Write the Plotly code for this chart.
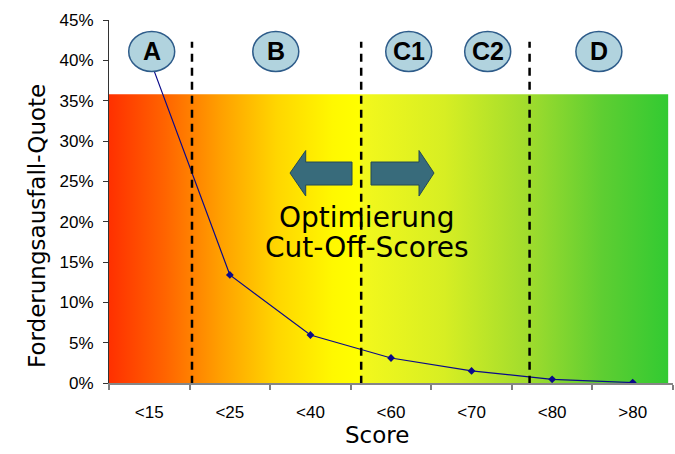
import plotly.graph_objects as go

# ---- data ----
categories = ["<15", "<25", "<40", "<60", "<70", "<80", ">80"]
quote = [0.403, 0.134, 0.0595, 0.031, 0.015, 0.0046, 0.0005]
y_ticks = [0, 0.05, 0.10, 0.15, 0.20, 0.25, 0.30, 0.35, 0.40, 0.45]
segment_labels = ["A", "B", "C1", "C2", "D"]
segment_x = [0.03, 1.57, 3.22, 4.20, 5.58]     # label centres (category units)
cutoff_x = [0.53, 2.63, 4.72]                  # dashed cut-off lines (category units)

# ---- styling constants ----
BAND_TOP = 0.358
BAND_RIGHT = 6.44
LABEL_Y = 0.411
CUTOFF_TOP = 0.423
TICK_FONT = dict(family="Liberation Sans, Arial", size=17, color="black")
TITLE_FONT = dict(family="DejaVu Sans", size=23, color="black")

grad = [
    [0.0, "rgb(255,48,0)"],
    [0.10, "rgb(255,100,0)"],
    [0.20, "rgb(255,160,0)"],
    [0.30, "rgb(255,214,0)"],
    [0.40, "rgb(255,248,0)"],
    [0.448, "rgb(255,255,0)"],
    [0.452, "rgb(243,248,28)"],
    [0.60, "rgb(215,238,35)"],
    [0.75, "rgb(160,220,45)"],
    [0.88, "rgb(95,206,50)"],
    [1.0, "rgb(50,202,50)"],
]

fig = go.Figure()

# gradient background band (on the hidden linear axis underneath)
fig.add_trace(go.Scatter(
    x=[-0.5, BAND_RIGHT, BAND_RIGHT, -0.5, -0.5],
    y=[0, 0, BAND_TOP, BAND_TOP, 0],
    xaxis="x", yaxis="y",
    mode="lines", line=dict(width=0),
    fill="toself",
    fillgradient=dict(type="horizontal", colorscale=grad),
    hoverinfo="skip", showlegend=False,
))

# data line (on the visible category axis, drawn above)
fig.add_trace(go.Scatter(
    x=categories, y=quote, xaxis="x2", yaxis="y",
    mode="lines+markers",
    line=dict(color="#0a0a8a", width=1.2),
    marker=dict(symbol="diamond", size=6, color="#0a0a8a"),
    showlegend=False,
))

shapes = []
for cx in cutoff_x:
    shapes.append(dict(type="line", xref="x", yref="y", x0=cx, x1=cx,
                       y0=-0.001, y1=CUTOFF_TOP, layer="above",
                       line=dict(color="black", width=2.5, dash="8px,6px")))
for sx in segment_x:
    shapes.append(dict(type="circle", xref="x", yref="y",
                       xsizemode="pixel", ysizemode="pixel",
                       xanchor=sx, yanchor=LABEL_Y,
                       x0=-23, x1=23, y0=-20, y1=20, layer="above",
                       fillcolor="rgb(177,211,222)",
                       line=dict(color="rgb(46,92,138)", width=1.5)))
ARROW_X, ARROW_Y = 2.634, 0.2603
left_arrow = "M -71.5 0 L -55.8 22.5 L -55.8 11 L -9.5 11 L -9.5 -12 L -55.8 -12 L -55.8 -23 Z"
right_arrow = "M 72.5 0 L 57.5 22.5 L 57.5 11 L 9.5 11 L 9.5 -12 L 57.5 -12 L 57.5 -23 Z"
for p in (left_arrow, right_arrow):
    shapes.append(dict(type="path", xref="x", yref="y",
                       xsizemode="pixel", ysizemode="pixel",
                       xanchor=ARROW_X, yanchor=ARROW_Y, path=p, layer="above",
                       fillcolor="rgb(56,107,123)",
                       line=dict(color="rgb(37,74,85)", width=1)))

annotations = []
for lab, sx in zip(segment_labels, segment_x):
    annotations.append(dict(text="<b>%s</b>" % lab, x=sx, y=LABEL_Y, xref="x", yref="y",
                            showarrow=False, xanchor="center", yanchor="middle",
                            font=dict(family="Liberation Sans, Arial", size=25, color="black")))
annotations.append(dict(text="Optimierung", x=2.70, y=0.205, xref="x", yref="y",
                        showarrow=False, xanchor="center", yanchor="middle",
                        font=dict(family="DejaVu Sans", size=28, color="black")))
annotations.append(dict(text="Cut-Off-Scores", x=2.70, y=0.168, xref="x", yref="y",
                        showarrow=False, xanchor="center", yanchor="middle",
                        font=dict(family="DejaVu Sans", size=28, color="black")))
annotations.append(dict(text="Score", x=0.476, y=-0.142, xref="paper", yref="paper",
                        showarrow=False, xanchor="center", yanchor="middle", font=TITLE_FONT))
annotations.append(dict(text="Forderungsausfall-Quote", x=-0.1268, y=0.434,
                        xref="paper", yref="paper", textangle=-90,
                        showarrow=False, xanchor="center", yanchor="middle", font=TITLE_FONT))

fig.update_layout(
    width=675, height=454,
    margin=dict(l=109, r=2, t=20, b=71),
    paper_bgcolor="white", plot_bgcolor="white",
    showlegend=False,
    xaxis=dict(range=[-0.5, 6.5], visible=False, showgrid=False, zeroline=False),
    xaxis2=dict(overlaying="x", side="bottom", type="category", categoryorder="array",
                categoryarray=categories, range=[-0.5, 6.5], tickson="boundaries",
                ticks="outside", ticklen=5, tickcolor="#808080", tickwidth=1.5,
                showline=True, linecolor="#868686", linewidth=2, showgrid=False,
                zeroline=False, tickfont=TICK_FONT, ticklabelstandoff=13),
    yaxis=dict(range=[0, 0.45], tickvals=y_ticks, tickformat=".0%", ticks="outside",
               ticklen=5, tickcolor="#333333", showline=True, linecolor="#333333",
               linewidth=1, showgrid=False, zeroline=False, tickfont=TICK_FONT,
               ticklabelstandoff=6),
    shapes=shapes, annotations=annotations,
)

fig.write_html("out.html")
